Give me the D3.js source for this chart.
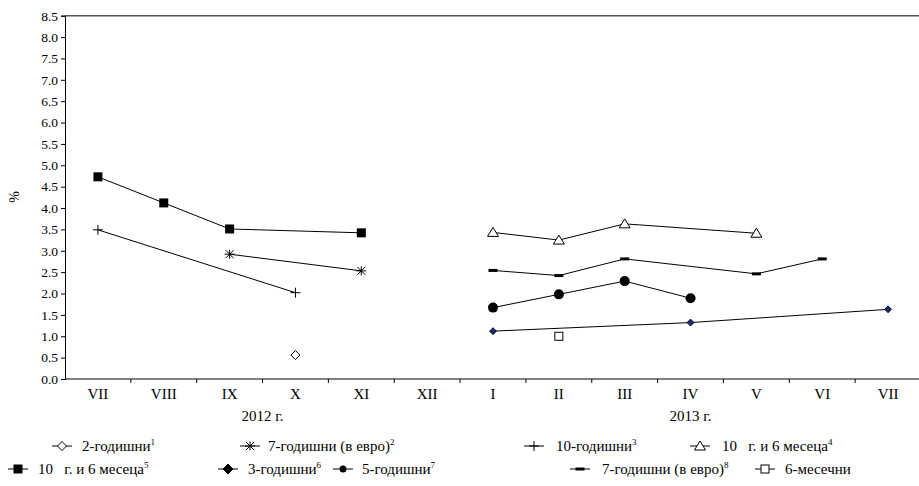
<!DOCTYPE html>
<html><head><meta charset="utf-8">
<script src="https://cdn.jsdelivr.net/npm/d3@7"></script>
<style>
body{margin:0;background:#fff;}
svg{display:block;}
svg text{font-family:"Liberation Serif","Times New Roman",serif !important;}
</style></head>
<body>
<svg id="c" width="919" height="486"></svg>
<script>
// ---- data ----
const categories = ["VII","VIII","IX","X","XI","XII","I","II","III","IV","V","VI","VII"];
const years = [{label:"2012 г.", from:0, to:5},{label:"2013 г.", from:6, to:12}];
const yTicks = [0,0.5,1,1.5,2,2.5,3,3.5,4,4.5,5,5.5,6,6.5,7,7.5,8,8.5];

const s2y    = [null,null,null,0.56,null,null, null,null,null,null,null,null,null];
const s7eur2 = [null,null,2.92,null,2.53,null, null,null,null,null,null,null,null];
const s10y3  = [3.49,null,null,2.02,null,null, null,null,null,null,null,null,null];
const s10y6m4= [null,null,null,null,null,null, 3.43,3.25,3.63,null,3.41,null,null];
const s10y6m5= [4.73,4.12,3.51,null,3.42,null, null,null,null,null,null,null,null];
const s3y6   = [null,null,null,null,null,null, 1.12,null,null,1.32,null,null,1.63];
const s5y7   = [null,null,null,null,null,null, 1.67,1.98,2.29,1.89,null,null,null];
const s7eur8 = [null,null,null,null,null,null, 2.54,2.42,2.81,null,2.46,2.81,null];
const s6m    = [null,null,null,null,null,null, null,1.00,null,null,null,null,null];

const series = [
  {name:"2-годишни", sup:"1", values:s2y, marker:"diamondOpen"},
  {name:"7-годишни (в евро)", sup:"2", values:s7eur2, marker:"asterisk"},
  {name:"10-годишни", sup:"3", values:s10y3, marker:"plus"},
  {name:"10   г. и 6 месеца", sup:"4", values:s10y6m4, marker:"triangleOpen"},
  {name:"10   г. и 6 месеца", sup:"5", values:s10y6m5, marker:"squareFilled"},
  {name:"3-годишни", sup:"6", values:s3y6, marker:"diamondNavy"},
  {name:"5-годишни", sup:"7", values:s5y7, marker:"circleFilled"},
  {name:"7-годишни (в евро)", sup:"8", values:s7eur8, marker:"dash"},
  {name:"6-месечни", sup:"", values:s6m, marker:"squareOpen"}
];

(function(){
const svg = d3.select("#c");
const pLeft = 65, pRight = 921, pTop = 15.7, pBottom = 379;
const x = d3.scaleBand().domain(d3.range(categories.length)).range([pLeft, pRight]).padding(0);
const y = d3.scaleLinear().domain([0, 8.5]).range([pBottom, pTop]);
const cx = i => x(i) + x.bandwidth()/2;

svg.append("line").attr("x1",pLeft).attr("x2",919).attr("y1",pTop).attr("y2",pTop)
  .attr("stroke","#555").attr("stroke-width",1.5);

const yAxis = svg.append("g").attr("transform",`translate(${pLeft},0)`)
  .call(d3.axisLeft(y).tickValues(yTicks).tickFormat(d3.format(".1f")).tickSize(4).tickPadding(3));
yAxis.attr("font-family",null).attr("font-size",null);
yAxis.selectAll("text").attr("font-size",13.5).attr("fill","#000");
yAxis.selectAll("line,path").attr("stroke","#000");

svg.append("line").attr("x1",pLeft).attr("x2",919).attr("y1",pBottom).attr("y2",pBottom)
  .attr("stroke","#000").attr("stroke-width",1.2);
svg.append("g").selectAll("line").data(d3.range(1,categories.length)).join("line")
  .attr("x1",i=>x(i)).attr("x2",i=>x(i)).attr("y1",pBottom).attr("y2",pBottom+4)
  .attr("stroke","#000");
svg.append("g").selectAll("text").data(categories).join("text")
  .attr("x",(d,i)=>cx(i)).attr("y",pBottom+20).attr("text-anchor","middle")
  .attr("font-size",15).text(d=>d);
svg.append("g").selectAll("text").data(years).join("text")
  .attr("x",d=>(cx(d.from)+cx(d.to))/2).attr("y",pBottom+42).attr("text-anchor","middle")
  .attr("font-size",15).text(d=>d.label);

svg.append("text").attr("transform","translate(19,197) rotate(-90)").attr("text-anchor","middle")
  .attr("font-size",14).text("%");

function drawMarker(g, type, px, py, legend){
  switch(type){
    case "diamondOpen":
      g.append("path").attr("d",`M${px},${py-4.5}L${px+4.5},${py}L${px},${py+4.5}L${px-4.5},${py}Z`)
        .attr("fill","#fff").attr("stroke","#000").attr("stroke-width",1); break;
    case "asterisk":
      g.append("path").attr("d",`M${px-4},${py-4}L${px+4},${py+4}M${px-4},${py+4}L${px+4},${py-4}M${px},${py-4.5}L${px},${py+4.5}M${px-5},${py}L${px+5},${py}`)
        .attr("stroke","#000").attr("stroke-width",1).attr("fill","none"); break;
    case "plus":
      g.append("path").attr("d",`M${px-5},${py}L${px+5},${py}M${px},${py-5}L${px},${py+5}`)
        .attr("stroke","#000").attr("stroke-width",1).attr("fill","none"); break;
    case "triangleOpen":
      g.append("path").attr("d",`M${px},${py-5}L${px+5.5},${py+4}L${px-5.5},${py+4}Z`)
        .attr("fill","#fff").attr("stroke","#000").attr("stroke-width",1); break;
    case "squareFilled":
      g.append("rect").attr("x",px-4.5).attr("y",py-4.5).attr("width",9).attr("height",9).attr("fill","#000"); break;
    case "diamondNavy": {
      const r = legend ? 5 : 3.5;
      g.append("path").attr("d",`M${px},${py-r}L${px+r},${py}L${px},${py+r}L${px-r},${py}Z`)
        .attr("fill",legend?"#000":"#1f2a6b").attr("stroke","#000").attr("stroke-width",0.8); break; }
    case "circleFilled":
      g.append("circle").attr("cx",px).attr("cy",py).attr("r",legend?3.5:5).attr("fill","#000"); break;
    case "dash":
      g.append("rect").attr("x",px-4.5).attr("y",py-1.5).attr("width",9).attr("height",3).attr("fill","#000"); break;
    case "squareOpen":
      g.append("rect").attr("x",px-4).attr("y",py-4).attr("width",8).attr("height",8)
        .attr("fill","#fff").attr("stroke","#000").attr("stroke-width",1); break;
  }
}

const line = d3.line().x(d=>cx(d.i)).y(d=>y(d.v));
series.forEach(s=>{
  const pts = s.values.map((v,i)=>({i,v})).filter(d=>d.v!=null);
  const g = svg.append("g");
  if(pts.length>1) g.append("path").attr("d",line(pts)).attr("fill","none").attr("stroke","#000").attr("stroke-width",1);
  pts.forEach(p=>drawMarker(g, s.marker, cx(p.i), y(p.v), false));
});

// legend: [marker centre x, row y, text x]
const legendPos = [
  [62,446,82],[250,446,268],[534,446,556],[700,446,722],
  [18,469,38],[228,469,248],[343,469,362],[580,469,602],[765,469,785]
];
series.forEach((s,k)=>{
  const [lx,ly,tx] = legendPos[k];
  const g = svg.append("g");
  g.append("line").attr("x1",lx-10).attr("x2",lx+10).attr("y1",ly).attr("y2",ly).attr("stroke","#000").attr("stroke-width",1);
  drawMarker(g, s.marker, lx, ly, true);
  const t = g.append("text").attr("x",tx).attr("y",ly+5).attr("font-size",15).attr("xml:space","preserve");
  t.append("tspan").text(s.name);
  if(s.sup) t.append("tspan").attr("font-size",9).attr("dy",-6).text(s.sup);
});
})();
</script>
</body></html>
